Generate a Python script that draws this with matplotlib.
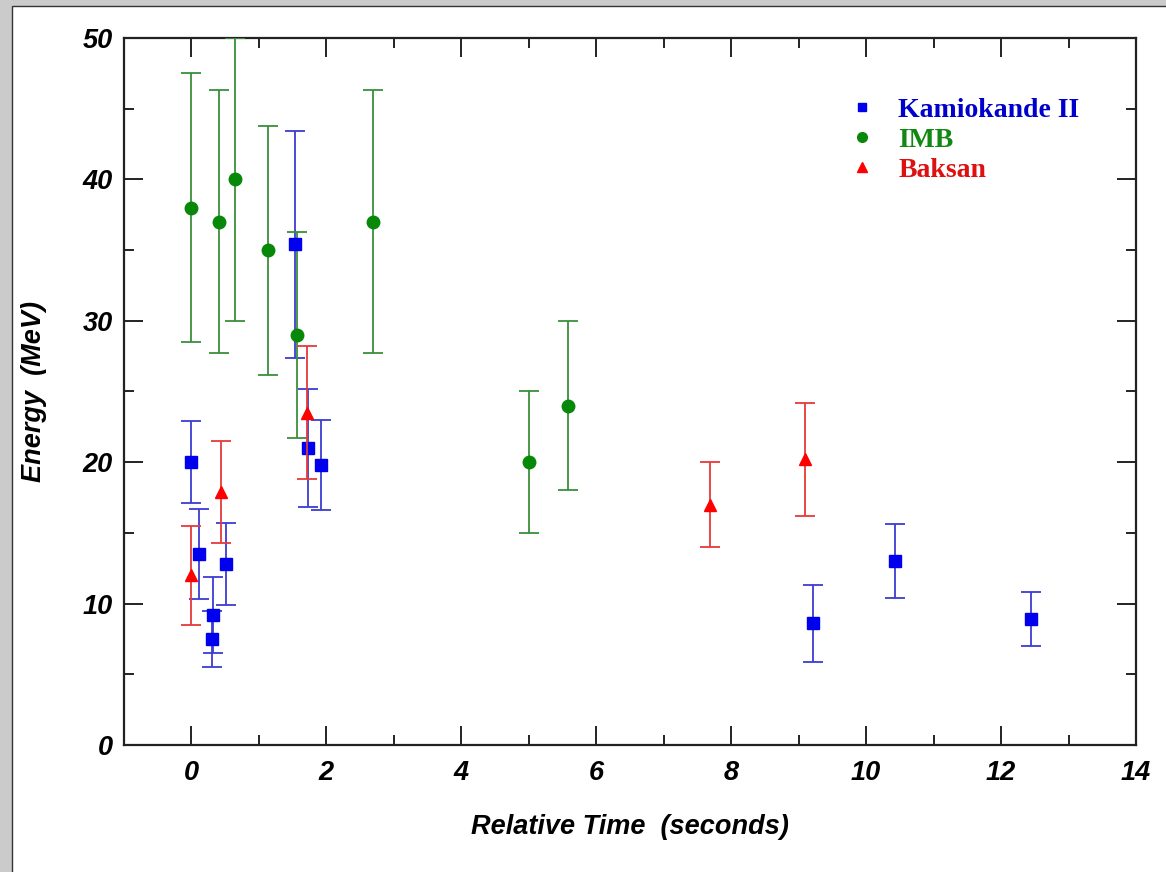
import matplotlib
matplotlib.use("Agg")
import matplotlib.pyplot as plt
from matplotlib.patches import Rectangle
from matplotlib.ticker import MultipleLocator

# Kamiokande II events: time (s), energy (MeV), error
kam_t = [0.0, 0.107, 0.303, 0.324, 0.507, 1.541, 1.728, 1.915, 9.219, 10.433, 12.439]
kam_e = [20.0, 13.5, 7.5, 9.2, 12.8, 35.4, 21.0, 19.8, 8.6, 13.0, 8.9]
kam_err = [2.9, 3.2, 2.0, 2.7, 2.9, 8.0, 4.2, 3.2, 2.7, 2.6, 1.9]

# IMB events
imb_t = [0.0, 0.412, 0.650, 1.141, 1.562, 2.684, 5.010, 5.582]
imb_e = [38, 37, 40, 35, 29, 37, 20, 24]
imb_err = [9.5, 9.3, 10.0, 8.8, 7.3, 9.3, 5.0, 6.0]

# Baksan events
bak_t = [0.0, 0.435, 1.710, 7.687, 9.099]
bak_e = [12.0, 17.9, 23.5, 17.0, 20.2]
bak_err = [3.5, 3.6, 4.7, 3.0, 4.0]

fig = plt.figure(figsize=(11.66, 8.72), dpi=100, facecolor="#cbcbcb")
# white panel inside the grey frame
fig.patches.append(Rectangle((12 / 1166, -0.01), 1.0, (872 - 6) / 872 + 0.01,
                             transform=fig.transFigure, facecolor="white",
                             edgecolor="#333333", linewidth=1.0, zorder=-10))

ax = fig.add_axes([124 / 1166, 127 / 872, 1012 / 1166, 707 / 872])
ax.set_zorder(5)
ax.set_facecolor("white")

cap = 7.2
ax.errorbar(kam_t, kam_e, yerr=kam_err, fmt="s", color="#0000ee", ecolor="#3c3cd2",
            markersize=8, elinewidth=1.3, capsize=cap, capthick=1.3, zorder=3)
ax.errorbar(imb_t, imb_e, yerr=imb_err, fmt="o", color="#088808", ecolor="#3a8f3a",
            markersize=9, elinewidth=1.3, capsize=cap, capthick=1.3, zorder=3)
ax.errorbar(bak_t, bak_e, yerr=bak_err, fmt="^", color="#ff0000", ecolor="#e53a3a",
            markersize=9, elinewidth=1.3, capsize=cap, capthick=1.3, zorder=4)

# legend
h1, = ax.plot([], [], "s", color="#0000ee", markersize=6)
h2, = ax.plot([], [], "o", color="#088808", markersize=7)
h3, = ax.plot([], [], "^", color="#ff0000", markersize=7)
ax.legend([h1, h2, h3], ["Kamiokande II", "IMB", "Baksan"],
          loc="upper left", bbox_to_anchor=(0.691, 0.951), frameon=False,
          labelcolor=["#0000cc", "#118811", "#dd1111"],
          prop={"family": "Liberation Serif", "weight": "bold", "size": 20},
          handlelength=1.0, handletextpad=0.8, labelspacing=0.16,
          borderpad=0.4)

ax.set_xlim(-1, 14)
ax.set_ylim(0, 50)
ax.xaxis.set_major_locator(MultipleLocator(2))
ax.xaxis.set_minor_locator(MultipleLocator(1))
ax.yaxis.set_major_locator(MultipleLocator(10))
ax.yaxis.set_minor_locator(MultipleLocator(5))
ax.tick_params(which="both", direction="in", top=True, right=True, width=1.4, color="#222222")
ax.tick_params(which="major", length=14)
ax.tick_params(which="minor", length=7)
ax.tick_params(axis="x", which="major", pad=11)
ax.tick_params(axis="y", which="major", pad=8)
for lab in ax.get_xticklabels() + ax.get_yticklabels():
    lab.set_fontfamily("Liberation Sans")
    lab.set_fontweight("bold")
    lab.set_fontstyle("italic")
    lab.set_fontsize(19.5)
for s in ax.spines.values():
    s.set_linewidth(1.6)
    s.set_color("#222222")

lab_font = {"family": "Liberation Sans", "weight": "bold", "style": "italic", "size": 19.5}
ax.set_xlabel("Relative Time  (seconds)", fontdict=lab_font, labelpad=20)
ax.set_ylabel("Energy  (MeV)", fontdict=lab_font, labelpad=26)

fig.savefig("out.png", dpi=100, facecolor=fig.get_facecolor())
